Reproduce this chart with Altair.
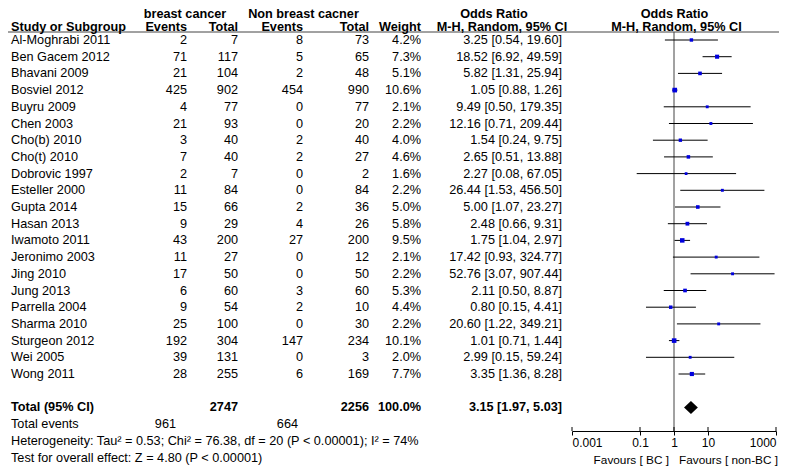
import altair as alt
import pandas as pd

studies = ["Al-Moghrabi 2011", "Ben Gacem 2012", "Bhavani 2009", "Bosviel 2012", "Buyru 2009",
           "Chen 2003", "Cho(b) 2010", "Cho(t) 2010", "Dobrovic 1997", "Esteller 2000",
           "Gupta 2014", "Hasan 2013", "Iwamoto 2011", "Jeronimo 2003", "Jing 2010",
           "Jung 2013", "Parrella 2004", "Sharma 2010", "Sturgeon 2012", "Wei 2005", "Wong 2011"]
bc_events = [2, 71, 21, 425, 4, 21, 3, 7, 2, 11, 15, 9, 43, 11, 17, 6, 9, 25, 192, 39, 28]
bc_total = [7, 117, 104, 902, 77, 93, 40, 40, 7, 84, 66, 29, 200, 27, 50, 60, 54, 100, 304, 131, 255]
nbc_events = [8, 5, 2, 454, 0, 0, 2, 2, 0, 0, 2, 4, 27, 0, 0, 3, 2, 0, 147, 0, 6]
nbc_total = [73, 65, 48, 990, 77, 20, 40, 27, 2, 84, 36, 26, 200, 12, 50, 60, 10, 30, 234, 3, 169]
weights = [4.2, 7.3, 5.1, 10.6, 2.1, 2.2, 4.0, 4.6, 1.6, 2.2, 5.0, 5.8, 9.5, 2.1, 2.2, 5.3, 4.4, 2.2, 10.1, 2.0, 7.7]
odds = [3.25, 18.52, 5.82, 1.05, 9.49, 12.16, 1.54, 2.65, 2.27, 26.44, 5.00, 2.48, 1.75, 17.42,
        52.76, 2.11, 0.80, 20.60, 1.01, 2.99, 3.35]
ci_low = [0.54, 6.92, 1.31, 0.88, 0.50, 0.71, 0.24, 0.51, 0.08, 1.53, 1.07, 0.66, 1.04, 0.93,
          3.07, 0.50, 0.15, 1.22, 0.71, 0.15, 1.36]
ci_high = [19.60, 49.59, 25.94, 1.26, 179.35, 209.44, 9.75, 13.88, 67.05, 456.50, 23.27, 9.31,
           2.97, 324.77, 907.44, 8.87, 4.41, 349.21, 1.44, 59.24, 8.28]

total_or, total_low, total_high = 3.15, 1.97, 5.03
total_bc, total_nbc, total_weight = 2747, 2256, 100.0
events_bc, events_nbc = 961, 664
het_text = "Heterogeneity: Tau\u00b2 = 0.53; Chi\u00b2 = 76.38, df = 20 (P < 0.00001); I\u00b2 = 74%"
test_text = "Test for overall effect: Z = 4.80 (P < 0.00001)"
x_ticks = [0.001, 0.1, 1, 10, 1000]

FONT = "Liberation Sans"
FS = 12.7
W, H = 771, 423
Y0, DY = 32, 16.7
AXIS_ROW = (H - Y0) / DY
HDR1, HDR2, RULE_ROW = (6 - Y0) / DY, (19 - Y0) / DY, (24 - Y0) / DY
FAV_ROW = (452 - Y0) / DY

n = len(studies)
df = pd.DataFrame({
    "row": list(range(n)), "study": studies,
    "bc_e": [str(v) for v in bc_events], "bc_t": [str(v) for v in bc_total],
    "nbc_e": [str(v) for v in nbc_events], "nbc_t": [str(v) for v in nbc_total],
    "w_lbl": [f"{w:.1f}%" for w in weights],
    "or_lbl": [f"{o:.2f} [{l:.2f}, {h:.2f}]" for o, l, h in zip(odds, ci_low, ci_high)],
    "or": odds, "lo": ci_low, "hi": ci_high, "weight": weights,
})

yscale = alt.Scale(domain=[0, 25], range=[Y0, Y0 + 25 * DY], nice=False, zero=False)
xscale = alt.Scale(type="log", domain=[0.001, 1000], range=[564, 768], nice=False)
xaxis = alt.Axis(values=x_ticks, format="~g", title=None, labelFlush=True, tickSize=4,
                 labelPadding=2, labelFont=FONT, labelFontSize=12, labelColor="black",
                 domainColor="black", tickColor="black", grid=False, orient="bottom")


def Y(field="row"):
    return alt.Y(f"{field}:Q", scale=yscale, axis=None)


def X(field):
    return alt.X(f"{field}:Q", scale=xscale, axis=xaxis)


def col(data, field, x, align="right", bold=False):
    return alt.Chart(data).mark_text(
        align=align, baseline="middle", font=FONT, fontSize=FS,
        fontWeight="bold" if bold else "normal", color="black"
    ).encode(x=alt.value(x), y=Y(), text=f"{field}:N")


def label(text, x, row, align="left", bold=False):
    d = pd.DataFrame({"row": [row], "t": [text]})
    return col(d, "t", x, align, bold)


layers = []
# header rule, reference line at OR = 1, inner halves of the axis ticks
layers.append(alt.Chart(pd.DataFrame({"row": [RULE_ROW]})).mark_rule(color="#444", strokeWidth=1).encode(
    x=alt.value(0), x2=alt.value(W), y=Y()))
layers.append(alt.Chart(pd.DataFrame({"x": [1], "r1": [RULE_ROW], "r2": [AXIS_ROW]})).mark_rule(
    color="#444", strokeWidth=1).encode(x=X("x"), y=Y("r1"), y2="r2:Q"))
layers.append(alt.Chart(pd.DataFrame({"t": x_ticks, "r1": [AXIS_ROW - 4 / DY] * len(x_ticks),
                                      "r2": [AXIS_ROW] * len(x_ticks)})).mark_rule(
    color="black", strokeWidth=1).encode(x=X("t"), y=Y("r1"), y2="r2:Q"))

# headers
hdr = [
    ("breast cancer", 177, HDR1, "center"), ("Non breast cacner", 295.5, HDR1, "center"),
    ("Odds Ratio", 486, HDR1, "center"), ("Odds Ratio", 666.5, HDR1, "center"),
    ("Study or Subgroup", 3, HDR2, "left"), ("Events", 179, HDR2, "right"),
    ("Total", 230, HDR2, "right"), ("Events", 295, HDR2, "right"),
    ("Total", 361, HDR2, "right"), ("Weight", 413, HDR2, "right"),
    ("M-H, Random, 95% CI", 494, HDR2, "center"), ("M-H, Random, 95% CI", 668.5, HDR2, "center"),
]
for t, x, r, a in hdr:
    layers.append(label(t, x, r, a, bold=True))

# study rows
layers += [
    col(df, "study", 3, "left"), col(df, "bc_e", 179), col(df, "bc_t", 230),
    col(df, "nbc_e", 295), col(df, "nbc_t", 361), col(df, "w_lbl", 413), col(df, "or_lbl", 554),
]

# summary rows
layers += [
    label("Total (95% CI)", 3, 22, "left", True),
    label(str(total_bc), 230, 22, "right", True),
    label(str(total_nbc), 361, 22, "right", True),
    label(f"{total_weight:.1f}%", 413, 22, "right", True),
    label(f"{total_or:.2f} [{total_low:.2f}, {total_high:.2f}]", 554, 22, "right", True),
    label("Total events", 3, 23, "left"),
    label(str(events_bc), 168, 23, "right"),
    label(str(events_nbc), 290, 23, "right"),
    label(het_text, 3, 24, "left"),
    label(test_text, 3, 25, "left"),
]

# forest
layers.append(alt.Chart(df).mark_rule(color="black", strokeWidth=1).encode(
    x=X("lo"), x2="hi:Q", y=Y()))
layers.append(alt.Chart(df).transform_calculate(sz="5 + datum.weight * 1.6").mark_square(
    color="#0000DD", opacity=1).encode(x=X("or"), y=Y(), size=alt.Size("sz:Q", scale=None)))

h = 0.39
diamond = pd.DataFrame({"x": [total_low, total_or, total_high],
                        "y": [22, 22 - h, 22], "y2": [22, 22 + h, 22]})
layers.append(alt.Chart(diamond).mark_area(color="black", orient="vertical", interpolate="linear",
                                            opacity=1).encode(x=X("x"), y=Y("y"), y2="y2:Q"))

for txt, a, dx in [("Favours [ BC ]", "right", -5), ("Favours [ non-BC ]", "left", 5)]:
    fav = pd.DataFrame({"x": [1], "row": [FAV_ROW], "t": [txt]})
    layers.append(alt.Chart(fav).mark_text(align=a, baseline="middle", dx=dx, font=FONT,
                                           fontSize=11.8, color="black").encode(
        x=X("x"), y=Y(), text="t:N"))

chart = alt.layer(*layers).properties(
    width=W, height=H,
    padding={"left": 0, "top": 0, "right": 0, "bottom": 459 - H},
    autosize=alt.AutoSizeParams(type="none"),
).configure_view(stroke=None)

chart.save("out.html", embed_options={"renderer": "svg", "actions": False})
